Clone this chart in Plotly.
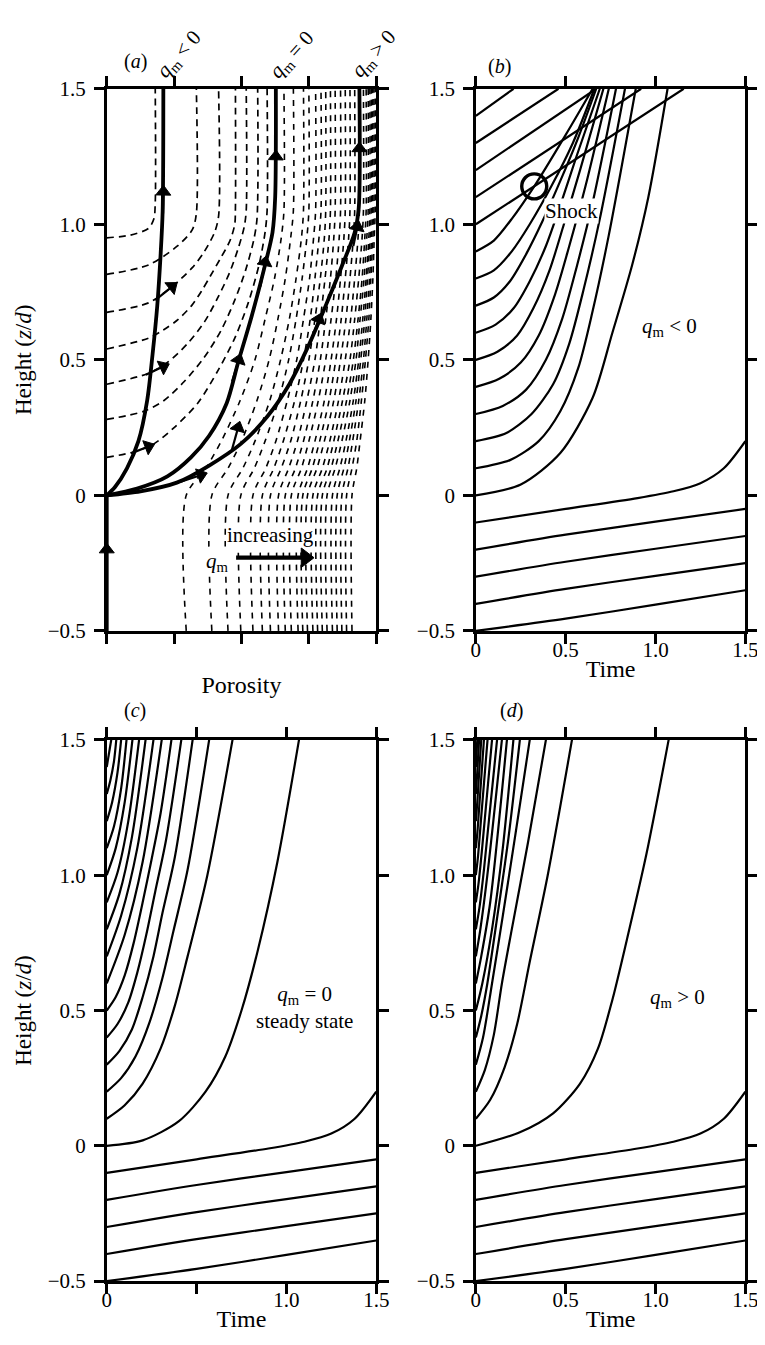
import plotly.graph_objects as go

FONT = "Liberation Serif"
W, H = 765, 1345

# ---------------- panel (a): porosity / height plane ----------------
a_porosity_ticks = [0, 1, 2, 3, 4]
height_ticks = [-0.5, 0, 0.5, 1.0, 1.5]
height_labels = ["\u22120.5", "0", "0.5", "1.0", "1.5"]

a_inflow_p = [0.0, 0.0]
a_inflow_z = [-0.5, 0.0]
a_qneg_p = [0, 0.12, 0.3, 0.47, 0.6, 0.68, 0.75, 0.8, 0.83, 0.84]
a_qneg_z = [0, 0.03, 0.1, 0.2, 0.35, 0.52, 0.7, 0.89, 1.05, 1.5]
a_qzero_p = [0, 0.45, 0.9, 1.25, 1.52, 1.78, 1.95, 2.15, 2.34, 2.46, 2.5, 2.51]
a_qzero_z = [0, 0.025, 0.07, 0.14, 0.22, 0.34, 0.49, 0.66, 0.84, 0.97, 1.1, 1.5]
a_qpos_p = [0, 0.5, 1.04, 1.52, 1.99, 2.38, 2.71, 3.0, 3.25, 3.49, 3.68, 3.74, 3.75]
a_qpos_z = [0, 0.015, 0.047, 0.11, 0.19, 0.29, 0.41, 0.555, 0.7, 0.846, 0.97, 1.06, 1.5]

# dashed curves entering from the left edge
a_left_p = [
    [0, 0.35, 0.62, 0.70, 0.72, 0.72],
    [0, 0.62, 1.05, 1.27, 1.33, 1.33],
    [0, 0.62, 0.97, 1.27, 1.45, 1.60, 1.66, 1.66],
    [0, 0.62, 0.84, 1.04, 1.26, 1.41, 1.54, 1.69, 1.83, 1.90, 1.91, 1.91],
    [0, 0.62, 0.9, 1.2, 1.45, 1.65, 1.82, 1.95, 2.04, 2.07, 2.07],
    [0, 0.55, 0.85, 1.15, 1.45, 1.7, 1.9, 2.06, 2.18, 2.23, 2.24],
    [0, 0.4, 0.7, 1.0, 1.35, 1.65, 1.9, 2.1, 2.26, 2.35, 2.38, 2.38],
]
a_left_z = [
    [0.95, 0.96, 0.985, 1.02, 1.08, 1.5],
    [0.815, 0.85, 0.92, 0.98, 1.04, 1.5],
    [0.675, 0.71, 0.77, 0.84, 0.90, 0.97, 1.03, 1.5],
    [0.54, 0.58, 0.61, 0.645, 0.70, 0.755, 0.81, 0.875, 0.94, 1.0, 1.06, 1.5],
    [0.41, 0.45, 0.49, 0.56, 0.64, 0.73, 0.82, 0.91, 0.99, 1.05, 1.5],
    [0.28, 0.31, 0.35, 0.42, 0.51, 0.61, 0.72, 0.83, 0.94, 1.02, 1.5],
    [0.14, 0.16, 0.19, 0.25, 0.34, 0.46, 0.58, 0.71, 0.85, 0.97, 1.05, 1.5],
]

# dashed curves rising from the bottom edge (porosity read at each level)
a_bottom_levels = [-0.5, 0, 0.1, 0.2, 0.35, 0.5, 0.65, 0.8, 0.95, 1.05, 1.5]
a_bottom_p = [
    [1.18, 1.18, 1.47, 1.70, 1.98, 2.20, 2.35, 2.49, 2.59, 2.63, 2.63],
    [1.56, 1.56, 1.80, 2.00, 2.23, 2.41, 2.54, 2.65, 2.73, 2.77, 2.77],
    [1.80, 1.80, 2.02, 2.20, 2.42, 2.58, 2.71, 2.81, 2.89, 2.92, 2.92],
    [1.99, 1.99, 2.19, 2.35, 2.55, 2.70, 2.81, 2.90, 2.97, 3.00, 3.00],
    [2.17, 2.17, 2.36, 2.51, 2.68, 2.82, 2.92, 3.01, 3.07, 3.10, 3.10],
    [2.31, 2.31, 2.48, 2.62, 2.79, 2.92, 3.02, 3.09, 3.15, 3.18, 3.18],
    [2.43, 2.43, 2.59, 2.73, 2.88, 3.00, 3.09, 3.17, 3.23, 3.25, 3.25],
    [2.55, 2.55, 2.70, 2.83, 2.97, 3.09, 3.17, 3.24, 3.30, 3.32, 3.32],
    [2.65, 2.65, 2.80, 2.92, 3.06, 3.17, 3.25, 3.32, 3.37, 3.39, 3.39],
    [2.74, 2.74, 2.89, 3.00, 3.14, 3.25, 3.33, 3.40, 3.45, 3.47, 3.47],
    [2.84, 2.84, 2.98, 3.09, 3.23, 3.33, 3.41, 3.47, 3.52, 3.54, 3.54],
    [2.91, 2.91, 3.05, 3.16, 3.30, 3.40, 3.48, 3.54, 3.59, 3.61, 3.61],
    [2.98, 2.98, 3.12, 3.23, 3.37, 3.47, 3.55, 3.61, 3.66, 3.68, 3.68],
    [3.06, 3.06, 3.20, 3.31, 3.44, 3.54, 3.62, 3.68, 3.73, 3.75, 3.75],
    [3.13, 3.13, 3.27, 3.37, 3.50, 3.61, 3.68, 3.74, 3.79, 3.81, 3.81],
    [3.20, 3.20, 3.33, 3.43, 3.56, 3.66, 3.73, 3.79, 3.83, 3.85, 3.85],
    [3.27, 3.27, 3.39, 3.49, 3.61, 3.70, 3.76, 3.82, 3.86, 3.88, 3.88],
    [3.35, 3.35, 3.46, 3.55, 3.66, 3.74, 3.80, 3.85, 3.89, 3.905, 3.905],
    [3.42, 3.42, 3.52, 3.60, 3.70, 3.77, 3.83, 3.87, 3.91, 3.925, 3.925],
    [3.49, 3.49, 3.58, 3.65, 3.74, 3.81, 3.86, 3.90, 3.93, 3.945, 3.945],
    [3.56, 3.56, 3.64, 3.71, 3.78, 3.84, 3.89, 3.92, 3.95, 3.965, 3.965],
    [3.64, 3.64, 3.71, 3.76, 3.83, 3.88, 3.92, 3.95, 3.97, 3.985, 3.985],
]

# arrows on panel (a): tail and head points (porosity, height)
a_arrow_head_p = [0.0, 0.84, 2.51, 2.35, 1.96, 3.75, 3.72, 3.15, 1.95, 0.97, 0.84, 0.62, 1.40]
a_arrow_head_z = [-0.2, 1.12, 1.25, 0.86, 0.50, 1.28, 0.99, 0.65, 0.25, 0.77, 0.475, 0.18, 0.075]
a_arrow_tail_p = [0.0, 0.835, 2.50, 2.28, 1.86, 3.75, 3.66, 3.03, 1.86, 0.72, 0.58, 0.36, 1.10]
a_arrow_tail_z = [-0.3, 1.04, 1.15, 0.77, 0.42, 1.18, 0.92, 0.57, 0.17, 0.72, 0.445, 0.155, 0.05]

a_increase_p = [1.92, 2.95]
a_increase_z = [-0.23, -0.23]

# ---------------- shared lower characteristics (b, c, d) ----------------
time_ticks = [0, 0.5, 1.0, 1.5]
low_t = [
    [0, 0.5, 0.9, 1.1, 1.25, 1.38, 1.5],
    [0, 0.5, 1.0, 1.5],
    [0, 0.5, 1.0, 1.5],
    [0, 0.5, 1.0, 1.5],
    [0, 0.5, 1.0, 1.5],
]
low_z = [
    [-0.1, -0.05, -0.01, 0.015, 0.045, 0.1, 0.2],
    [-0.2, -0.145, -0.097, -0.05],
    [-0.3, -0.245, -0.197, -0.15],
    [-0.4, -0.345, -0.297, -0.25],
    [-0.5, -0.455, -0.403, -0.35],
]

# ---------------- panel (b): q_m < 0 ----------------
b_curve_t = [
    [0, 0.25, 0.47, 0.65, 0.76, 0.87, 0.96, 1.067],
    [0, 0.19, 0.35, 0.47, 0.57, 0.65, 0.74, 0.89],
    [0, 0.17, 0.31, 0.43, 0.52, 0.60, 0.69, 0.83],
    [0, 0.15, 0.28, 0.39, 0.48, 0.56, 0.65, 0.78],
    [0, 0.13, 0.25, 0.35, 0.44, 0.52, 0.61, 0.74],
    [0, 0.12, 0.23, 0.32, 0.41, 0.49, 0.58, 0.71],
    [0, 0.11, 0.21, 0.30, 0.39, 0.47, 0.56, 0.69],
    [0, 0.10, 0.19, 0.28, 0.37, 0.47, 0.57, 0.67],
    [0, 0.10, 0.20, 0.30, 0.42, 0.54, 0.66],
    [0, 0.10, 0.20, 0.325, 0.50, 0.65],
]
b_curve_z = [
    [0, 0.04, 0.156, 0.36, 0.60, 0.85, 1.10, 1.5],
    [0.1, 0.13, 0.20, 0.31, 0.47, 0.68, 0.96, 1.5],
    [0.2, 0.23, 0.30, 0.41, 0.56, 0.76, 1.02, 1.5],
    [0.3, 0.33, 0.39, 0.50, 0.65, 0.84, 1.08, 1.5],
    [0.4, 0.43, 0.49, 0.59, 0.74, 0.92, 1.14, 1.5],
    [0.5, 0.53, 0.59, 0.69, 0.83, 1.00, 1.20, 1.5],
    [0.6, 0.63, 0.69, 0.79, 0.92, 1.07, 1.25, 1.5],
    [0.7, 0.73, 0.79, 0.89, 1.01, 1.16, 1.32, 1.5],
    [0.8, 0.83, 0.90, 1.00, 1.14, 1.30, 1.5],
    [0.9, 0.94, 1.02, 1.14, 1.33, 1.5],
]
b_line_z0 = [1.0, 1.1, 1.2, 1.3, 1.4]
b_line_t_top = [1.157, 0.92, 0.67, 0.46, 0.21]
b_shock_t = [0.325]
b_shock_z = [1.14]

# ---------------- panel (c): q_m = 0 ----------------
c_curve_t = [
    [0, 0.20, 0.40, 0.55, 0.66, 0.75, 0.84, 0.95, 1.07],
    [0, 0.10, 0.20, 0.30, 0.38, 0.45, 0.56, 0.70],
    [0, 0.08, 0.16, 0.24, 0.31, 0.37, 0.45, 0.57],
    [0, 0.07, 0.14, 0.20, 0.26, 0.31, 0.38, 0.478],
    [0, 0.06, 0.12, 0.17, 0.22, 0.27, 0.33, 0.415],
    [0, 0.05, 0.10, 0.15, 0.20, 0.25, 0.30, 0.36],
    [0, 0.10, 0.20, 0.306],
    [0, 0.08, 0.17, 0.26],
    [0, 0.07, 0.14, 0.216],
    [0, 0.06, 0.12, 0.18],
    [0, 0.05, 0.10, 0.143],
    [0, 0.04, 0.08, 0.11],
    [0, 0.03, 0.06, 0.08],
    [0, 0.02, 0.04, 0.053],
    [0, 0.025],
]
c_curve_z = [
    [0, 0.02, 0.09, 0.20, 0.33, 0.50, 0.72, 1.05, 1.5],
    [0.1, 0.15, 0.23, 0.36, 0.52, 0.70, 1.00, 1.5],
    [0.2, 0.25, 0.33, 0.46, 0.62, 0.79, 1.02, 1.5],
    [0.3, 0.35, 0.43, 0.55, 0.70, 0.86, 1.07, 1.5],
    [0.4, 0.45, 0.53, 0.64, 0.78, 0.94, 1.13, 1.5],
    [0.5, 0.55, 0.63, 0.75, 0.90, 1.06, 1.23, 1.5],
    [0.6, 0.78, 1.05, 1.5],
    [0.7, 0.85, 1.10, 1.5],
    [0.8, 0.93, 1.14, 1.5],
    [0.9, 1.01, 1.20, 1.5],
    [1.0, 1.10, 1.27, 1.5],
    [1.1, 1.18, 1.32, 1.5],
    [1.2, 1.27, 1.38, 1.5],
    [1.3, 1.35, 1.42, 1.5],
    [1.4, 1.5],
]

# ---------------- panel (d): q_m > 0 ----------------
d_curve_t = [
    [0, 0.245, 0.43, 0.58, 0.68, 0.76, 0.84, 0.95, 1.073],
    [0, 0.08, 0.16, 0.23, 0.30, 0.40, 0.535],
    [0, 0.05, 0.10, 0.145, 0.20, 0.29, 0.39],
    [0, 0.04, 0.09, 0.15, 0.22, 0.30],
    [0, 0.03, 0.064, 0.12, 0.18, 0.245],
    [0, 0.036, 0.09, 0.15, 0.209],
    [0, 0.03, 0.08, 0.173],
    [0, 0.025, 0.064, 0.145],
    [0, 0.02, 0.045, 0.118],
    [0, 0.015, 0.035, 0.09],
    [0, 0.012, 0.028, 0.065],
    [0, 0.01, 0.045],
    [0, 0.008, 0.03],
    [0, 0.006, 0.018],
    [0, 0.008],
]
d_curve_z = [
    [0, 0.05, 0.12, 0.23, 0.36, 0.54, 0.76, 1.08, 1.5],
    [0.1, 0.17, 0.29, 0.45, 0.68, 1.00, 1.5],
    [0.2, 0.28, 0.41, 0.60, 0.80, 1.12, 1.5],
    [0.3, 0.40, 0.60, 0.85, 1.15, 1.5],
    [0.4, 0.48, 0.60, 0.85, 1.13, 1.5],
    [0.5, 0.60, 0.80, 1.10, 1.5],
    [0.6, 0.70, 0.90, 1.5],
    [0.7, 0.80, 1.00, 1.5],
    [0.8, 0.88, 1.02, 1.5],
    [0.9, 0.97, 1.10, 1.5],
    [1.0, 1.07, 1.20, 1.5],
    [1.1, 1.17, 1.5],
    [1.2, 1.27, 1.5],
    [1.3, 1.36, 1.5],
    [1.4, 1.5],
]

# =====================================================================
fig = go.Figure()
A, B, C, D = ("x", "y"), ("x2", "y2"), ("x3", "y3"), ("x4", "y4")


def line(x, y, ax, width=2.2, dash=None, shape="spline"):
    fig.add_trace(go.Scatter(
        x=x, y=y, mode="lines", xaxis=ax[0], yaxis=ax[1],
        line=dict(color="black", width=width, dash=dash, shape=shape, smoothing=0.8),
        hoverinfo="skip", showlegend=False))


def arrow(x, y, ax, width=2.2, size=14):
    fig.add_trace(go.Scatter(
        x=x, y=y, mode="lines+markers", xaxis=ax[0], yaxis=ax[1],
        line=dict(color="black", width=width),
        marker=dict(symbol="triangle-up", size=size, color="black",
                    opacity=[0, 1], angleref="previous",
                    line=dict(width=1, color="black")),
        hoverinfo="skip", showlegend=False, cliponaxis=False))


# panel (a)
for p, z in zip(a_left_p, a_left_z):
    line(p, z, A, width=1.7, dash="7px,5px")
for row in a_bottom_p:
    line(row, a_bottom_levels, A, width=1.6, dash="6px,6px")
line(a_inflow_p, a_inflow_z, A, width=3.8, shape="linear")
line(a_qneg_p, a_qneg_z, A, width=3.8)
line(a_qzero_p, a_qzero_z, A, width=3.8)
line(a_qpos_p, a_qpos_z, A, width=3.8)
for hp, hz, tp, tz in zip(a_arrow_head_p, a_arrow_head_z, a_arrow_tail_p, a_arrow_tail_z):
    arrow([tp, hp], [tz, hz], A, width=2.2, size=13)
arrow(a_increase_p, a_increase_z, A, width=4.2, size=17)

# panels (b), (c), (d): shared lower characteristics
for ax in (B, C, D):
    for t, z in zip(low_t, low_z):
        line(t, z, ax)

for t, z in zip(b_curve_t, b_curve_z):
    line(t, z, B)
for z0, t1 in zip(b_line_z0, b_line_t_top):
    line([0, t1], [z0, 1.5], B, shape="linear")
fig.add_trace(go.Scatter(
    x=b_shock_t, y=b_shock_z, mode="markers", xaxis="x2", yaxis="y2",
    marker=dict(symbol="circle-open", size=25, color="black", line=dict(width=3.4)),
    hoverinfo="skip", showlegend=False))

for t, z in zip(c_curve_t, c_curve_z):
    line(t, z, C)
for t, z in zip(d_curve_t, d_curve_z):
    line(t, z, D)

# ---------------- layout ----------------
def px_x(x0, x1):
    return [x0 / W, x1 / W]


def px_y(top, bottom):
    return [1 - bottom / H, 1 - top / H]


tickfont = dict(family=FONT, size=21, color="black")
titlefont = dict(family=FONT, size=24, color="black")
base = dict(showline=True, linecolor="black", linewidth=2.5, mirror="ticks",
            ticks="outside", ticklen=10, tickwidth=2.5, tickcolor="black",
            showgrid=False, zeroline=False, tickfont=tickfont)

left_dom, right_dom = px_x(96, 372), px_x(474, 750)
top_dom, bot_dom = px_y(70, 622), px_y(733, 1284)

yax = dict(base, range=[-0.5, 1.5], tickvals=height_ticks, ticktext=height_labels,
           ticklabelstandoff=4)
xtime = dict(base, range=[0, 1.5], ticklabelstandoff=-12)
time_labels = ["0", "0.5", "1.0", "1.5"]
height_title = dict(text="Height (<i>z</i>/<i>d</i>)", font=dict(family=FONT, size=23),
                    standoff=10)
time_title = dict(text="Time", font=titlefont, standoff=0)

fig.update_layout(
    width=W, height=H, margin=dict(l=0, r=0, t=0, b=0),
    paper_bgcolor="white", plot_bgcolor="white", showlegend=False,
    font=dict(family=FONT, color="black"),
    xaxis=dict(base, domain=left_dom, range=[0, 4], tickvals=a_porosity_ticks,
               showticklabels=False, anchor="y",
               title=dict(text="Porosity", font=titlefont, standoff=34)),
    yaxis=dict(yax, domain=top_dom, anchor="x", title=height_title),
    xaxis2=dict(xtime, domain=right_dom, tickvals=time_ticks,
                ticktext=time_labels, anchor="y2", title=time_title),
    yaxis2=dict(yax, domain=top_dom, anchor="x2"),
    xaxis3=dict(xtime, domain=left_dom, tickvals=[0, 1.0, 1.5],
                ticktext=["0", "1.0", "1.5"], anchor="y3", title=time_title,
                minor=dict(tickvals=[0.5], ticks="outside", ticklen=10, tickwidth=2.5,
                           tickcolor="black", showgrid=False)),
    yaxis3=dict(yax, domain=bot_dom, anchor="x3", title=height_title),
    xaxis4=dict(xtime, domain=right_dom, tickvals=time_ticks,
                ticktext=time_labels, anchor="y4", title=time_title),
    yaxis4=dict(yax, domain=bot_dom, anchor="x4"),
)

ann = []


def paper_text(text, x, y, size=22, angle=0):
    ann.append(dict(text=text, x=x / W, y=1 - y / H, xref="paper", yref="paper",
                    showarrow=False, textangle=angle, xanchor="center", yanchor="middle",
                    font=dict(family=FONT, size=size, color="black")))


def data_text(text, x, y, ax, size=21, bg=None):
    d = dict(text=text, x=x, y=y, xref=ax[0], yref=ax[1], showarrow=False,
             xanchor="center", yanchor="middle",
             font=dict(family=FONT, size=size, color="black"))
    if bg:
        d["bgcolor"] = bg
        d["borderpad"] = 0
    ann.append(d)


# panel letters
paper_text("(<i>a</i>)", 125, 42, size=20)
paper_text("(<i>b</i>)", 498, 47, size=20)
paper_text("(<i>c</i>)", 125, 703, size=20)
paper_text("(<i>d</i>)", 510, 703, size=20)

# rotated flux labels above panel (a)
paper_text("<i>q</i><sub>m</sub> &lt; 0", 171, 35, size=21, angle=-48)
paper_text("<i>q</i><sub>m</sub> = 0", 286, 36, size=21, angle=-48)
paper_text("<i>q</i><sub>m</sub> &gt; 0", 370, 35, size=21, angle=-48)

# in-panel text
data_text("increasing", 2.43, -0.145, A, size=21, bg="white")
data_text("<i>q</i><sub>m</sub>", 1.64, -0.245, A, size=21, bg="white")
data_text("Shock", 0.53, 1.05, B, size=21, bg="white")
data_text("<i>q</i><sub>m</sub> &lt; 0", 1.08, 0.62, B, size=21)
data_text("<i>q</i><sub>m</sub> = 0<br>steady state", 1.10, 0.51, C, size=21)
data_text("<i>q</i><sub>m</sub> &gt; 0", 1.12, 0.545, D, size=21)

fig.update_layout(annotations=ann)
fig.write_html("out.html")
